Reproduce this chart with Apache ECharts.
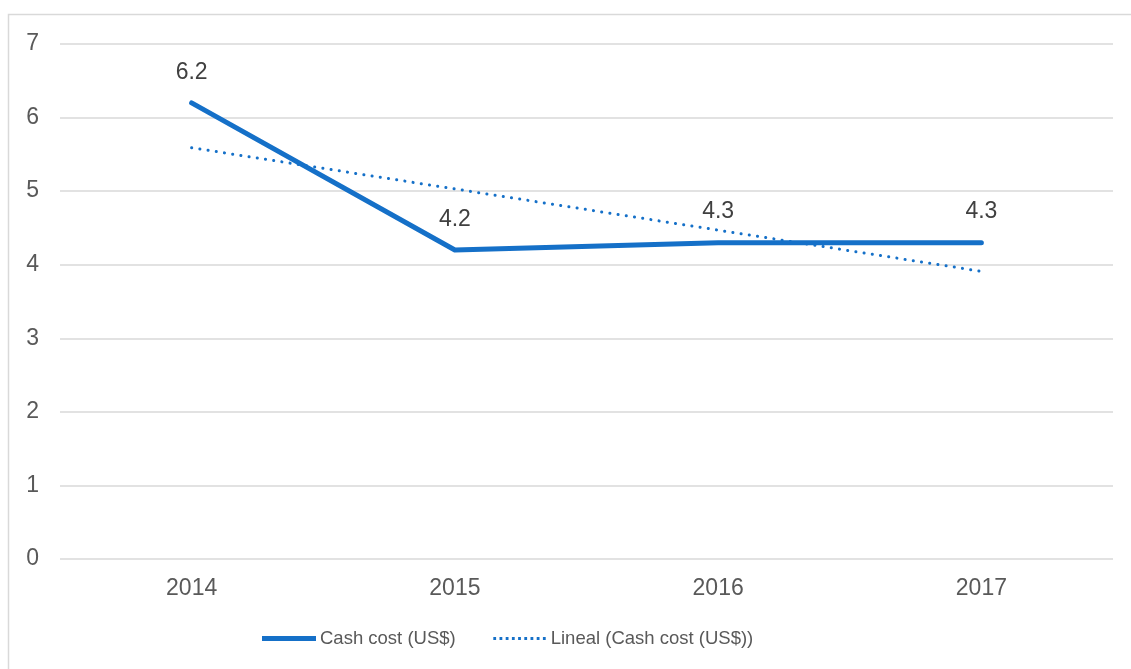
<!DOCTYPE html>
<html>
<head>
<meta charset="utf-8">
<script src="https://cdn.jsdelivr.net/npm/echarts@6/dist/echarts.min.js"></script>
<style>
  html, body { margin: 0; padding: 0; background: #fff; }
  #chart { width: 1131px; height: 669px; }
</style>
</head>
<body>
<div id="chart"></div>
<script>
var years = ['2014', '2015', '2016', '2017'];
var cashCost = [6.2, 4.2, 4.3, 4.3];
var trendValues = [5.59, 5.03, 4.47, 3.91];
var yTicks = [0, 1, 2, 3, 4, 5, 6, 7];

var blue = '#1570c8';

// legend icons: the M0,0 / M56,14 corners keep every icon the same box
var solidIcon = 'path://M0,0 M56,14 M1,4.5 L55,4.5 L55,9.5 L1,9.5 Z';
var dotIcon = 'path://M0,0 M56,14';
for (var i = 0; i < 9; i++) {
    var dx = 3 + i * 6.2;
    dotIcon += ' M' + (dx - 1.4) + ',5.6 L' + (dx + 1.4) + ',5.6 L' + (dx + 1.4) + ',8.4 L' + (dx - 1.4) + ',8.4 Z';
}

var chart = echarts.init(document.getElementById('chart'));
chart.setOption({
    animation: false,
    textStyle: { fontFamily: 'Liberation Sans, Arial, sans-serif' },
    graphic: [{
        type: 'rect',
        shape: { x: 8.5, y: 14.5, width: 1130, height: 660 },
        style: { fill: 'none', stroke: '#d9d9d9', lineWidth: 1.5 }
    }],
    grid: { left: 60, right: 18, top: 44, bottom: 110 },
    legend: {
        bottom: 16,
        left: 256,
        itemGap: 36,
        itemWidth: 56,
        itemHeight: 14,
        textStyle: { fontSize: 18.5, color: '#595959', padding: [0, 0, 0, -2] },
        data: [
            { name: 'Cash cost (US$)', icon: solidIcon, itemStyle: { color: blue } },
            { name: 'Lineal (Cash cost (US$))', icon: dotIcon, itemStyle: { color: blue } }
        ]
    },
    xAxis: {
        type: 'category',
        data: years,
        boundaryGap: true,
        axisLine: { show: false },
        axisTick: { show: false },
        axisLabel: { fontSize: 23, color: '#595959', margin: 18 }
    },
    yAxis: {
        type: 'value',
        min: yTicks[0],
        max: yTicks[yTicks.length - 1],
        interval: 1,
        axisLine: { show: false },
        axisTick: { show: false },
        axisLabel: { fontSize: 23, color: '#595959', margin: 21 },
        splitLine: { lineStyle: { color: '#d9d9d9', width: 1.5 } }
    },
    series: [{
        name: 'Cash cost (US$)',
        type: 'line',
        data: cashCost,
        symbol: 'circle',
        symbolSize: 2,
        showSymbol: true,
        color: blue,
        lineStyle: { width: 5, color: blue, cap: 'round', join: 'round' },
        label: {
            show: true,
            position: 'top',
            distance: 18,
            fontSize: 23,
            color: '#404040'
        },
        z: 3
    }, {
        name: 'Lineal (Cash cost (US$))',
        type: 'line',
        data: trendValues,
        symbol: 'none',
        color: blue,
        lineStyle: { width: 3, color: blue, type: [0.1, 8.2], cap: 'round' },
        z: 2
    }]
});
</script>
</body>
</html>
